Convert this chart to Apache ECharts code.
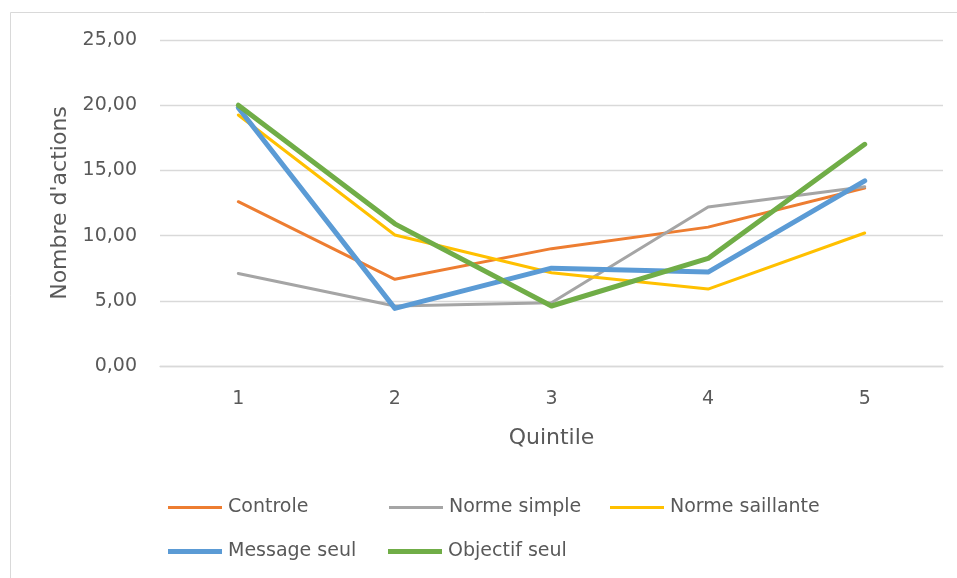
<!DOCTYPE html>
<html>
<head>
<meta charset="utf-8">
<script src="https://cdn.jsdelivr.net/npm/echarts@6/dist/echarts.min.js"></script>
<style>
html,body{margin:0;padding:0;background:#fff;}
#c{width:957px;height:578px;}
</style>
</head>
<body>
<div id="c"></div>
<script>
var categories = ['1', '2', '3', '4', '5'];
var controle = [12.6, 6.65, 9.0, 10.65, 13.65];
var normeSimple = [7.1, 4.6, 4.85, 12.2, 13.75];
var normeSaillante = [19.25, 10.05, 7.15, 5.9, 10.2];
var messageSeul = [19.8, 4.42, 7.5, 7.2, 14.2];
var objectifSeul = [20.0, 10.9, 4.6, 8.25, 17.0];
var seriesNames = ['Controle', 'Norme simple', 'Norme saillante', 'Message seul', 'Objectif seul'];
var yTicks = { min: 0, max: 25, interval: 5 };

var FONT = 'DejaVu Sans';
var TXT = '#595959';
var colors = ['#ED7D31', '#A5A5A5', '#FFC000', '#5B9BD5', '#70AD47'];
var widths = [3, 3, 3, 5, 5];
var allData = [controle, normeSimple, normeSaillante, messageSeul, objectifSeul];

var legendPos = [
  { left: 168, top: 498 },
  { left: 389, top: 498 },
  { left: 610, top: 498 },
  { left: 168, top: 542 },
  { left: 388, top: 542 }
];

var chart = echarts.init(document.getElementById('c'), null, { renderer: 'canvas' });

var option = {
  backgroundColor: '#ffffff',
  animation: false,
  graphic: [{
    type: 'rect',
    shape: { x: 10.5, y: 12.5, width: 960, height: 600 },
    style: { fill: 'none', stroke: '#d9d9d9', lineWidth: 1 },
    silent: true,
    z: -10
  }],
  legend: seriesNames.map(function (n, i) {
    return {
      data: [n],
      left: legendPos[i].left,
      top: legendPos[i].top,
      padding: 0,
      icon: 'rect',
      itemWidth: 54,
      itemHeight: widths[i] > 4 ? 5 : 3,
      itemGap: 0,
      textStyle: { fontFamily: FONT, fontSize: 19, color: TXT, padding: [0, 0, 0, 1] },
      selectedMode: false
    };
  }),
  grid: { left: 160, right: 14, top: 40, bottom: 212, containLabel: false },
  xAxis: {
    type: 'category',
    data: categories,
    boundaryGap: true,
    name: 'Quintile',
    nameLocation: 'middle',
    nameGap: 61,
    nameTextStyle: { fontFamily: FONT, fontSize: 22, color: TXT },
    axisLine: { show: true, lineStyle: { color: '#d9d9d9', width: 1.3 } },
    axisTick: { show: false },
    axisLabel: { fontFamily: FONT, fontSize: 19, color: TXT, margin: 24 }
  },
  yAxis: {
    type: 'value',
    min: yTicks.min,
    max: yTicks.max,
    interval: yTicks.interval,
    name: "Nombre d'actions",
    nameLocation: 'middle',
    nameGap: 88,
    nameRotate: 90,
    nameTextStyle: { fontFamily: FONT, fontSize: 22, color: TXT },
    axisLine: { show: false },
    axisTick: { show: false },
    splitLine: { lineStyle: { color: '#d9d9d9', width: 1.3 } },
    axisLabel: {
      fontFamily: FONT, fontSize: 19, color: TXT, margin: 23,
      formatter: function (v) { return v.toFixed(2).replace('.', ','); }
    }
  },
  series: seriesNames.map(function (n, i) {
    return {
      name: n,
      type: 'line',
      data: allData[i],
      symbol: 'none',
      showSymbol: false,
      color: colors[i],
      lineStyle: { color: colors[i], width: widths[i], cap: 'round', join: 'round' },
      itemStyle: { color: colors[i] },
      z: 2 + i
    };
  })
};
chart.setOption(option);
</script>
</body>
</html>
